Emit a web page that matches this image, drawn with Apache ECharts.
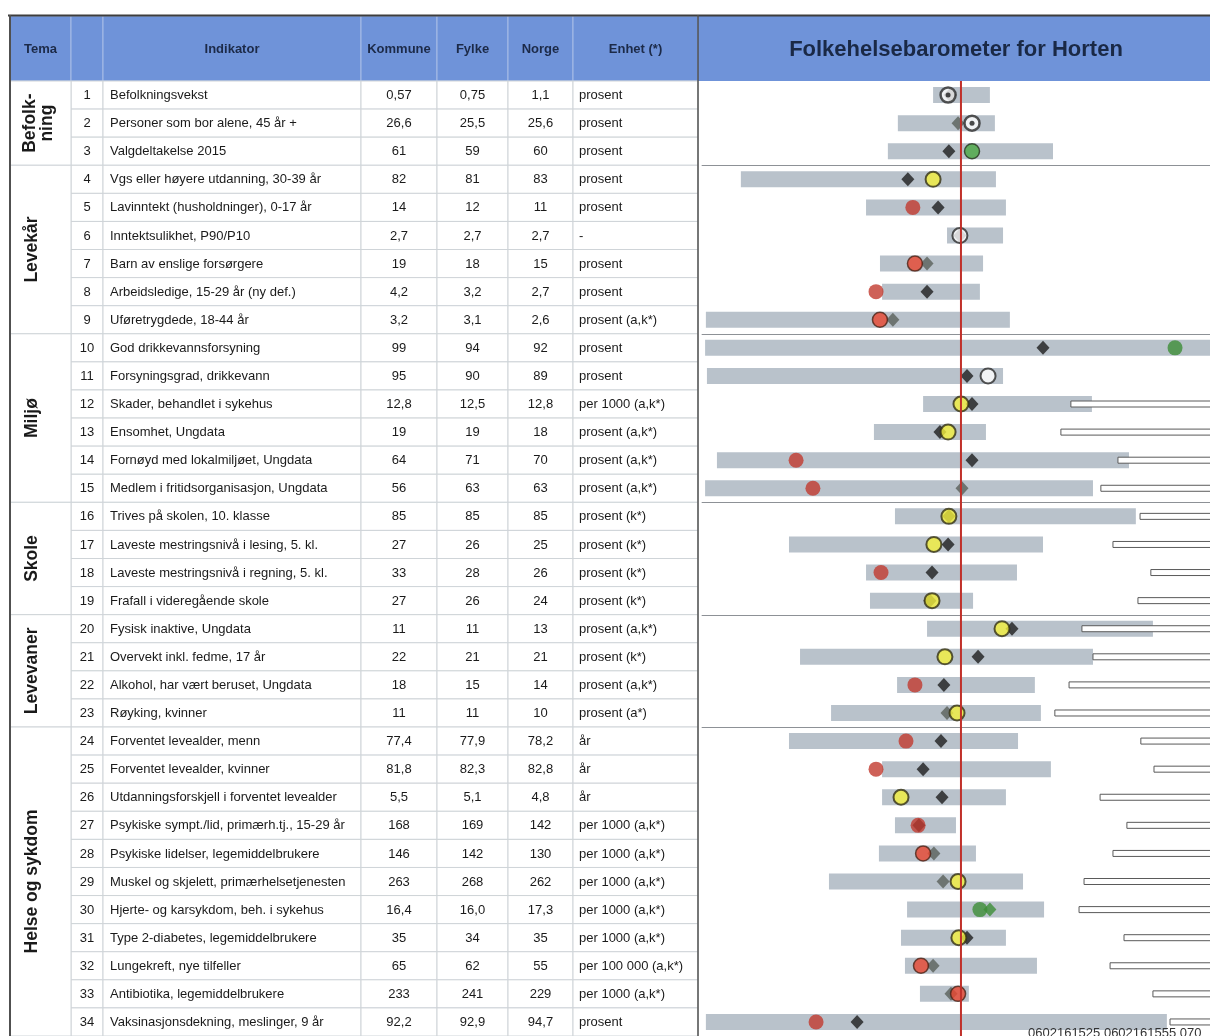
<!DOCTYPE html>
<html><head><meta charset="utf-8">
<script src="https://cdn.jsdelivr.net/npm/echarts@6/dist/echarts.min.js"></script>
<style>html,body{margin:0;padding:0;background:#fff}#c{width:1210px;height:1036px}</style>
</head><body><div id="c"></div><script>
// ---------- DATA ----------
const rowNo = [1,2,3,4,5,6,7,8,9,10,11,12,13,14,15,16,17,18,19,20,21,22,23,24,25,26,27,28,29,30,31,32,33,34];
const indicators = [
  'Befolkningsvekst','Personer som bor alene, 45 år +','Valgdeltakelse 2015',
  'Vgs eller høyere utdanning, 30-39 år','Lavinntekt (husholdninger), 0-17 år','Inntektsulikhet, P90/P10',
  'Barn av enslige forsørgere','Arbeidsledige, 15-29 år (ny def.)','Uføretrygdede, 18-44 år',
  'God drikkevannsforsyning','Forsyningsgrad, drikkevann','Skader, behandlet i sykehus',
  'Ensomhet, Ungdata','Fornøyd med lokalmiljøet, Ungdata','Medlem i fritidsorganisasjon, Ungdata',
  'Trives på skolen, 10. klasse','Laveste mestringsnivå i lesing, 5. kl.','Laveste mestringsnivå i regning, 5. kl.',
  'Frafall i videregående skole','Fysisk inaktive, Ungdata','Overvekt inkl. fedme, 17 år',
  'Alkohol, har vært beruset, Ungdata','Røyking, kvinner','Forventet levealder, menn',
  'Forventet levealder, kvinner','Utdanningsforskjell i forventet levealder','Psykiske sympt./lid, primærh.tj., 15-29 år',
  'Psykiske lidelser, legemiddelbrukere','Muskel og skjelett, primærhelsetjenesten','Hjerte- og karsykdom, beh. i sykehus',
  'Type 2-diabetes, legemiddelbrukere','Lungekreft, nye tilfeller','Antibiotika, legemiddelbrukere',
  'Vaksinasjonsdekning, meslinger, 9 år'
];
const kommune = ['0,57','26,6','61','82','14','2,7','19','4,2','3,2','99','95','12,8','19','64','56','85','27','33','27','11','22','18','11','77,4','81,8','5,5','168','146','263','16,4','35','65','233','92,2'];
const fylke   = ['0,75','25,5','59','81','12','2,7','18','3,2','3,1','94','90','12,5','19','71','63','85','26','28','26','11','21','15','11','77,9','82,3','5,1','169','142','268','16,0','34','62','241','92,9'];
const norge   = ['1,1','25,6','60','83','11','2,7','15','2,7','2,6','92','89','12,8','18','70','63','85','25','26','24','13','21','14','10','78,2','82,8','4,8','142','130','262','17,3','35','55','229','94,7'];
const enhet = ['prosent','prosent','prosent','prosent','prosent','-','prosent','prosent','prosent (a,k*)',
  'prosent','prosent','per 1000 (a,k*)','prosent (a,k*)','prosent (a,k*)','prosent (a,k*)',
  'prosent (k*)','prosent (k*)','prosent (k*)','prosent (k*)','prosent (a,k*)','prosent (k*)','prosent (a,k*)','prosent (a*)',
  'år','år','år','per 1000 (a,k*)','per 1000 (a,k*)','per 1000 (a,k*)','per 1000 (a,k*)','per 1000 (a,k*)','per 100 000 (a,k*)','per 1000 (a,k*)','prosent'];
const temaNames = ['Befolk-\nning','Levekår','Miljø','Skole','Levevaner','Helse og sykdom'];
const temaSpans = [3,6,6,4,4,11];
const headerLabels = ['Tema','','Indikator','Kommune','Fylke','Norge','Enhet (*)'];
const chartTitle = 'Folkehelsebarometer for Horten';
// standardised barometer scale: Norway = 0
const barLow  = [-10.6,-24.0,-27.8,-83.7,-36.1,-5.3,-30.8,-30.0,-97.0,-97.3,-96.6,-14.4,-33.1,-92.8,-97.3,-25.1,-65.4,-36.1,-34.6,-12.9,-61.2,-24.3,-49.4,-65.4,-30.0,-30.0,-25.1,-31.2,-50.2,-20.5,-22.8,-21.3,-15.6,-97.0];
const barHigh = [11.0,12.9,35.0,13.3,17.1,16.0,8.4,7.2,18.6,100,16.0,49.8,9.5,63.9,50.2,66.5,31.2,21.3,4.6,73.0,50.2,28.1,30.4,21.7,34.2,17.1,-1.9,5.7,23.6,31.6,17.1,28.9,3.0,78.3];
const kommunePos = [-4.9,4.2,4.2,-10.6,-18.3,-0.4,-17.5,-32.3,-30.8,81.4,10.3,0.0,-4.9,-62.7,-56.3,-4.6,-10.3,-30.4,-11.0,15.6,-6.1,-17.5,-1.5,-20.9,-32.3,-22.8,-16.3,-14.4,-1.1,7.2,-0.8,-15.2,-1.1,-55.1];
const fylkePos   = [-4.2,-1.1,-4.6,-20.2,-8.7,-0.4,-12.9,-12.9,-25.9,31.2,2.3,4.2,-8.0,4.2,0.4,-4.6,-4.9,-11.0,-11.8,19.4,6.5,-6.5,-5.3,-7.6,-14.4,-7.2,-16.0,-10.3,-6.8,11.0,2.3,-10.6,-3.8,-39.5];
const whiteStart = [null,null,null,null,null,null,null,null,null,null,null,41.8,38.0,59.7,53.2,68.1,57.8,72.2,67.3,46.0,50.2,41.1,35.7,68.4,73.4,52.9,63.1,57.8,46.8,44.9,62.0,56.7,73.0,79.5];
const kommuneType = ['dot','dot','greenO','yellow','red','white','redO','red','redO','green','white','yellow','yellow','red','red','yellow','yellow','red','yellow','yellow','yellow','red','yellow','red','red','yellow','red','redO','yellow','green','yellow','redO','redO','red'];
const fylkeType = ['k','g','k','k','k','k','g','k','g','k','k','k','k','k','g','k','k','k','k','k','k','k','g','k','k','k','k','g','g','green','k','g','g','k'];
const footnoteText = '0602161525 0602161555 070';

// ---------- LAYOUT / STYLE ----------
const FONT = "'Liberation Sans', Arial, sans-serif";
const TOP = 81, ROWH = 28.2, NROWS = rowNo.length;
const TLEFT = 10, TWIDTH = 688;
const colEdges = [0, 61, 93, 351, 427, 498, 563, 688];
const CLEFT = 698, CWIDTH = 512;
const XMIN = -100, XMAX = 94.7;   // Norway (0) lands at x = 961
const circleStyle = {
  red:   {color:'#c23a2e', borderColor:'#c23a2e', borderWidth:0},
  redO:  {color:'#e8462f', borderColor:'#4a2418', borderWidth:1.5},
  yellow:{color:'#f4f03c', borderColor:'#333015', borderWidth:2},
  green: {color:'#3d8d37', borderColor:'#3d8d37', borderWidth:0},
  greenO:{color:'#4aa842', borderColor:'#25331f', borderWidth:1.5},
  white: {color:'#ffffff', borderColor:'#2b2b2b', borderWidth:2},
  dot:   {color:'#ffffff', borderColor:'#2b2b2b', borderWidth:2.5}
};
const diamondColor = {k:'#1e1e1e', g:'#5a605a', green:'#3d8d37'};

const chart = echarts.init(document.getElementById('c'), null, {renderer:'canvas'});
const cats = rowNo.map(String);

function tableRender(params, api) {
  const i = api.value(1);
  const yc = api.coord([0, i])[1];
  const h = api.size([0, 1])[1];
  const ch = [];
  const xs = colEdges.map(e => api.coord([e, i])[0]);
  for (let c = 1; c < colEdges.length - 1; c++) {
    ch.push({type:'rect', shape:{x:xs[c], y:yc - h/2, width:xs[c+1]-xs[c], height:h},
      style:{fill:'#fff', stroke:'#cfd4d8', lineWidth:1}});
  }
  const t = (text, x, align) => ({type:'text', style:{text, x, y:yc + 0.5, align, verticalAlign:'middle',
      fontSize:13, fontFamily:FONT, fill:'#1a1a1a'}});
  ch.push(t(String(rowNo[i]), (xs[1]+xs[2])/2, 'center'));
  ch.push(t(indicators[i], xs[2] + 7, 'left'));
  ch.push(t(kommune[i], (xs[3]+xs[4])/2, 'center'));
  ch.push(t(fylke[i], (xs[4]+xs[5])/2, 'center'));
  ch.push(t(norge[i], (xs[5]+xs[6])/2, 'center'));
  ch.push(t(enhet[i], xs[6] + 6, 'left'));
  return {type:'group', children:ch};
}

const temaData = [];
{ let s = 0; temaSpans.forEach((n, k) => { temaData.push([0, s, s + n - 1, k]); s += n; }); }
function temaRender(params, api) {
  const s = api.value(1), e = api.value(2), k = api.value(3);
  const h = api.size([0, 1])[1];
  const y0 = api.coord([0, s])[1] - h/2, y1 = api.coord([0, e])[1] + h/2;
  const x0 = api.coord([colEdges[0], s])[0], x1 = api.coord([colEdges[1], s])[0];
  const twoLine = temaNames[k].indexOf('\n') >= 0;
  return {type:'group', children:[
    {type:'rect', shape:{x:x0, y:y0, width:x1-x0, height:y1-y0}, style:{fill:'#fff', stroke:'#cfd4d8', lineWidth:1}},
    {type:'text', x: twoLine ? x0 + 29 : x0 + 22, y:(y0+y1)/2, rotation:Math.PI/2,
      style:{text:temaNames[k], x:0, y:0, align:'center', verticalAlign:'middle', fontSize:17.5, fontWeight:'bold',
        fontFamily:FONT, fill:'#1a1a1a', lineHeight:17}}
  ]};
}

function barRender(params, api) {
  const i = api.value(2);
  const p0 = api.coord([api.value(0), i]), p1 = api.coord([api.value(1), i]);
  return {type:'rect', shape:{x:p0[0], y:p0[1]-8, width:p1[0]-p0[0], height:16}, style:{fill:'#b9c2cb'}};
}
function whiteRender(params, api) {
  const i = api.value(2);
  const p0 = api.coord([api.value(0), i]), p1 = api.coord([api.value(1), i]);
  return {type:'rect', shape:{x:p0[0], y:p0[1]-3, width:p1[0]-p0[0], height:6},
    style:{fill:'#ffffff', stroke:'#5a5a5a', lineWidth:1}};
}
const groupStarts = [];
{ let s = 0; temaSpans.slice(0, -1).forEach(n => { s += n; groupStarts.push([-98.6, 100, s]); }); }
function groupLineRender(params, api) {
  const i = api.value(2);
  const h = api.size([0, 1])[1];
  const p0 = api.coord([api.value(0), i]), p1 = api.coord([api.value(1), i]);
  const y = Math.round(p0[1] - h/2) + 0.5;
  return {type:'line', shape:{x1:p0[0], y1:y, x2:p1[0], y2:y}, style:{stroke:'#8d9196', lineWidth:1.2}};
}
function redLineRender(params, api) {
  const cs = params.coordSys;
  const x = api.coord([api.value(0), 0])[0];
  return {type:'line', shape:{x1:x, y1:cs.y, x2:x, y2:cs.y + cs.height}, style:{stroke:'#c0302a', lineWidth:2}};
}

// header (graphic)
const graphic = [];
const hx = colEdges.map(e => TLEFT + e);
for (let c = 0; c < headerLabels.length; c++) {
  graphic.push({type:'rect', shape:{x:hx[c], y:16, width:hx[c+1]-hx[c], height:TOP-16},
    style:{fill:'#6f93d9', stroke:'#a8bde6', lineWidth:1}});
  graphic.push({type:'text', x:(hx[c]+hx[c+1])/2, y:(16+TOP)/2 + 1,
    style:{text:headerLabels[c], align:'center', verticalAlign:'middle', fontSize:13, fontWeight:'bold', fontFamily:FONT, fill:'#1c2a48'}});
}
graphic.push({type:'rect', shape:{x:CLEFT, y:16, width:1210-CLEFT, height:TOP-16}, style:{fill:'#6f93d9'}});
graphic.push({type:'text', x:956, y:(16+TOP)/2 + 1,
  style:{text:chartTitle, align:'center', verticalAlign:'middle', fontSize:22, fontWeight:'bold', fontFamily:FONT, fill:'#1a2946'}});
graphic.push({type:'line', shape:{x1:8, y1:15.5, x2:1210, y2:15.5}, style:{stroke:'#3d3d3d', lineWidth:2}, z:100});
graphic.push({type:'line', shape:{x1:10, y1:15, x2:10, y2:1036}, style:{stroke:'#505050', lineWidth:2}, z:100});
graphic.push({type:'line', shape:{x1:698, y1:15, x2:698, y2:1036}, style:{stroke:'#505050', lineWidth:1.5}, z:100});
graphic.push({type:'text', x:1028, y:1027, z:100,
  style:{text:footnoteText, align:'left', verticalAlign:'top', fontSize:13, fontFamily:FONT, fill:'#333'}});

const kData = kommunePos.map((v, i) => ({value:[v, i], itemStyle:circleStyle[kommuneType[i]]}));
const dotData = kommunePos.map((v, i) => [v, i]).filter((d, i) => kommuneType[i] === 'dot');
const fData = fylkePos.map((v, i) => ({value:[v, i], itemStyle:{color:diamondColor[fylkeType[i]]}}));

const option = {
  animation:false,
  backgroundColor:'#ffffff',
  graphic,
  grid:[
    {left:TLEFT, top:TOP, width:TWIDTH, height:ROWH*NROWS},
    {left:CLEFT, top:TOP, width:CWIDTH, height:ROWH*NROWS}
  ],
  xAxis:[
    {gridIndex:0, type:'value', min:0, max:TWIDTH, show:false},
    {gridIndex:1, type:'value', min:XMIN, max:XMAX, show:false}
  ],
  yAxis:[
    {gridIndex:0, type:'category', data:cats, inverse:true, show:false},
    {gridIndex:1, type:'category', data:cats, inverse:true, show:false}
  ],
  series:[
    {type:'custom', xAxisIndex:0, yAxisIndex:0, renderItem:tableRender, data:rowNo.map((r, i) => [0, i]), encode:{x:0, y:1}, clip:false, silent:true},
    {type:'custom', xAxisIndex:0, yAxisIndex:0, renderItem:temaRender, data:temaData, encode:{x:0, y:1}, clip:false, silent:true},
    {type:'custom', xAxisIndex:1, yAxisIndex:1, renderItem:barRender, data:barLow.map((v, i) => [v, barHigh[i], i]), encode:{x:[0,1], y:2}, clip:false, z:2},
    {type:'custom', xAxisIndex:1, yAxisIndex:1, renderItem:whiteRender,
      data:whiteStart.map((v, i) => v === null ? null : [v, 100, i]).filter(d => d), encode:{x:[0,1], y:2}, clip:false, z:3},
    {type:'custom', xAxisIndex:1, yAxisIndex:1, renderItem:groupLineRender, data:groupStarts, encode:{x:[0,1], y:2}, clip:false, z:3},
    {type:'scatter', xAxisIndex:1, yAxisIndex:1, symbol:'diamond', symbolSize:[13,14], data:fData, z:4, silent:true, clip:false},
    {type:'scatter', xAxisIndex:1, yAxisIndex:1, symbol:'circle', symbolSize:15, data:kData, z:5, silent:true, clip:false},
    {type:'scatter', xAxisIndex:1, yAxisIndex:1, symbol:'circle', symbolSize:5, data:dotData, itemStyle:{color:'#1e1e1e'}, z:6, silent:true},
    {type:'custom', xAxisIndex:1, yAxisIndex:1, renderItem:redLineRender, data:[[0, 0]], encode:{x:0, y:1}, clip:false, z:7, silent:true}
  ]
};
chart.setOption(option);
</script></body></html>
